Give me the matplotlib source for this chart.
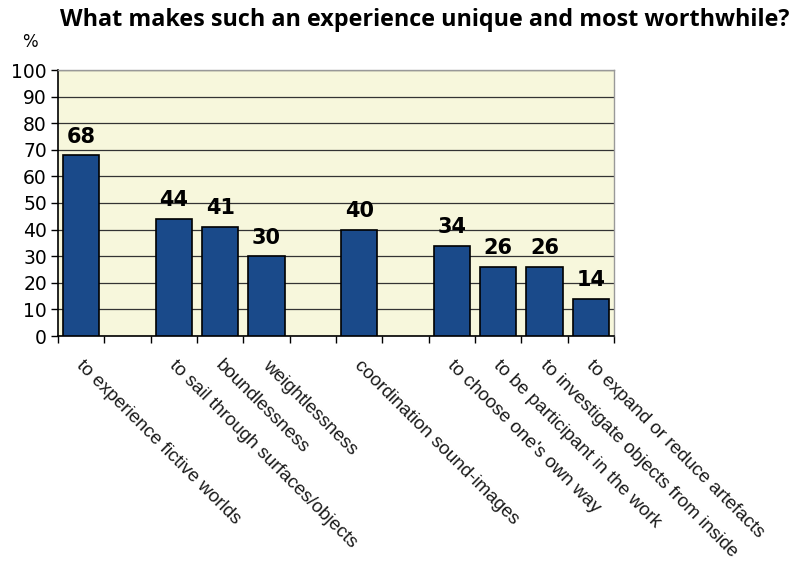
import matplotlib
matplotlib.use("Agg")
import matplotlib.pyplot as plt
import numpy as np

# 12 category slots; empty labels are spacer slots with no bar
labels = ["to experience fictive worlds", "", "to sail through surfaces/objects",
          "boundlessness", "weightlessness", "", "coordination sound-images", "",
          "to choose one's own way", "to be participant in the work",
          "to investigate objects from inside", "to expand or reduce artefacts"]
values = [68, None, 44, 41, 30, None, 40, None, 34, 26, 26, 14]
y_ticks = list(range(0, 101, 10))

fig = plt.figure(figsize=(8.05, 5.8), dpi=100)
ax = fig.add_axes([58 / 805, 1 - 336 / 580, (614 - 58) / 805, (336 - 70) / 580])
ax.set_facecolor("#f7f7dc")

pos = [i for i, v in enumerate(values) if v is not None]
vals = [values[i] for i in pos]
ax.bar(pos, vals, width=0.78, color="#1a4a8a", edgecolor="black", linewidth=1.2, zorder=3)

for x, v in zip(pos, vals):
    ax.text(x, v + 3.2, str(v), ha="center", va="bottom", fontsize=15,
            fontweight="heavy", family="DejaVu Sans", zorder=4)

ax.set_xlim(-0.5, len(values) - 0.5)
ax.set_ylim(0, 100)
ax.set_yticks(y_ticks)
ax.yaxis.grid(True, color="#333333", linewidth=0.9, zorder=1)
ax.tick_params(axis="y", labelsize=13.5, length=5, direction="out", width=1, pad=3)
for t in ax.get_yticklabels():
    t.set_family("DejaVu Sans")

# ticks at slot boundaries, labels placed by hand under each slot
ax.set_xticks(np.arange(-0.5, len(values), 1.0))
ax.set_xticklabels([])
ax.tick_params(axis="x", length=5, direction="out", width=1)
for i, lab in enumerate(labels):
    if lab:
        ax.annotate(lab, xy=(i, 0), xycoords=("data", "axes fraction"),
                    xytext=(3, -15), textcoords="offset points",
                    rotation=-45, rotation_mode="anchor", ha="left", va="top",
                    fontsize=13.5, family="Liberation Sans", color="#1a1a1a")

for side in ["top", "right"]:
    ax.spines[side].set_color("#999999")
    ax.spines[side].set_linewidth(1)
ax.spines["left"].set_linewidth(1.2)
ax.spines["bottom"].set_linewidth(1.2)

fig.text(60 / 805, 1 - 20 / 580, "What makes such an experience unique and most worthwhile?",
         fontsize=16.8, fontweight="bold", family="Open Sans", ha="left", va="center")
fig.text(22 / 805, 1 - 42 / 580, "%", fontsize=12, family="DejaVu Sans",
         ha="left", va="center")

fig.savefig("out.png", dpi=100)
